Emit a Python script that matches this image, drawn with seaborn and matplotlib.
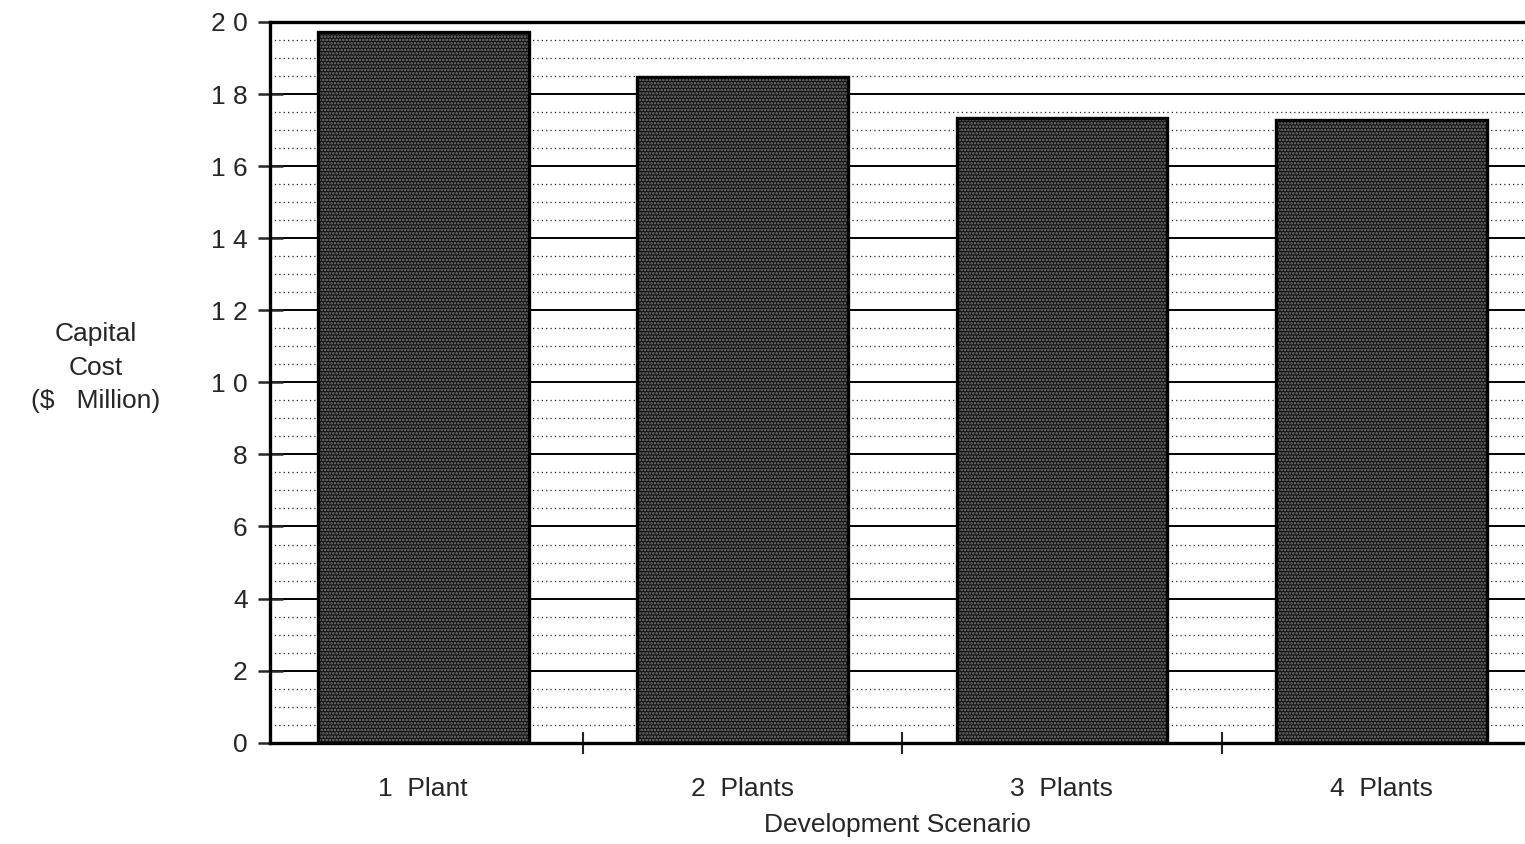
import matplotlib
matplotlib.use('Agg')
import matplotlib.pyplot as plt
from matplotlib.patches import Rectangle
from matplotlib.ticker import MultipleLocator, FixedLocator
import seaborn as sns
import pandas as pd

# data
scenarios = ['1  Plant', '2  Plants', '3  Plants', '4  Plants']
capital_cost = [19.72, 18.47, 17.34, 17.28]
y_ticks = [0, 2, 4, 6, 8, 10, 12, 14, 16, 18, 20]
y_tick_labels = ['0', '2', '4', '6', '8', '1 0', '1 2', '1 4', '1 6', '1 8', '2 0']

df = pd.DataFrame({'Scenario': scenarios, 'Cost': capital_cost})

sns.set_style('white')
plt.rcParams['font.family'] = ['Liberation Sans', 'DejaVu Sans']
plt.rcParams['hatch.linewidth'] = 1.2

fig = plt.figure(figsize=(15.25, 8.44), dpi=100)
ax = fig.add_axes([0.177, 0.12, 0.823, 0.854])

# background grid: solid at majors, dotted at minors
ax.yaxis.set_minor_locator(MultipleLocator(0.5))
ax.grid(which='major', axis='y', color='black', linewidth=1.4, zorder=0)
ax.grid(which='minor', axis='y', color='#222222', linewidth=0.9,
        linestyle=(0, (1, 2.5)), zorder=0)
ax.set_axisbelow(True)

sns.barplot(data=df, x='Scenario', y='Cost', ax=ax, width=0.66,
            color='#141414', linewidth=0, saturation=1, zorder=3)
# light dot screen inside, black outline on top
for p in list(ax.patches):
    p.set_hatch('.....')
    p.set_edgecolor('#7a7a7a')
    p.set_linewidth(0)
    ax.add_patch(Rectangle(p.get_xy(), p.get_width(), p.get_height(),
                           fill=False, edgecolor='black', linewidth=2.4, zorder=4))

ax.set_ylim(0, 20)
ax.set_xlim(-0.48, 3.45)
ax.set_yticks(y_ticks)
ax.set_yticklabels(y_tick_labels, fontsize=19)
ax.tick_params(axis='y', which='major', left=True, direction='inout',
               length=18, width=1.8, pad=7)
ax.tick_params(axis='y', which='minor', length=0)

ax.xaxis.set_major_locator(FixedLocator([0.5, 1.5, 2.5]))
ax.xaxis.set_minor_locator(FixedLocator([0, 1, 2, 3]))
ax.set_xticklabels([])
ax.set_xticklabels(scenarios, minor=True, fontsize=19)
ax.tick_params(axis='x', which='major', bottom=True, direction='inout',
               length=16, width=1.5)
ax.tick_params(axis='x', which='minor', bottom=True, length=0, pad=25)

for side in ['left', 'bottom', 'top']:
    ax.spines[side].set_linewidth(2.4)
    ax.spines[side].set_color('black')
ax.spines['right'].set_visible(False)

ax.set_xlabel('Development Scenario', fontsize=19, labelpad=8)
ax.set_ylabel('Capital\nCost\n($   Million)', fontsize=19, rotation=0,
              ha='center', va='center', labelpad=0, linespacing=1.5)
ax.yaxis.set_label_coords(-0.139, 0.52)

fig.savefig('out.png', dpi=100)
